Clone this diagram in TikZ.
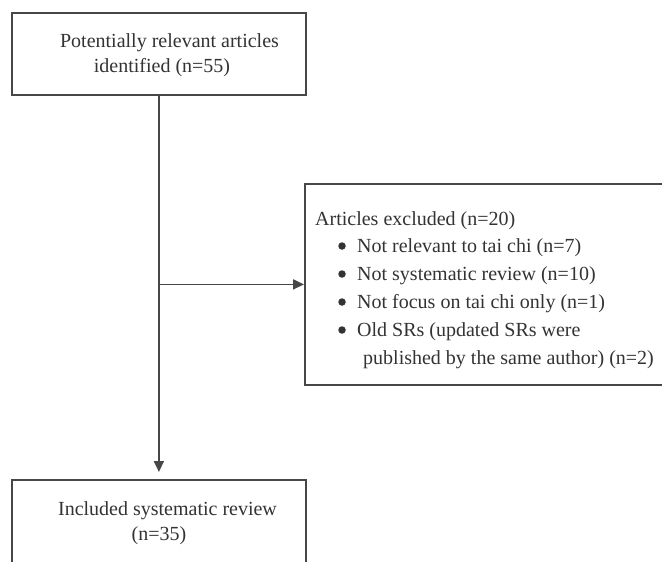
\documentclass[tikz,border=0pt]{standalone}
\usepackage{fontspec}
\setmainfont{Liberation Serif}
\usetikzlibrary{arrows.meta}
\definecolor{linec}{HTML}{474747}
\definecolor{textc}{HTML}{333333}
\begin{document}
\begin{tikzpicture}[x=1pt,y=-1pt,
  boxst/.style={draw=linec, line width=1.8pt, inner sep=0pt, anchor=north west},
  txt/.style={text=textc, font=\fontsize{20}{25}\selectfont, inner sep=0pt},
  conn/.style={draw=linec, line width=1.8pt, -{Triangle[length=11pt,width=10pt]}},
  dotst/.style={circle, fill=textc, inner sep=0pt, minimum size=7.5pt}]
\useasboundingbox[fill=white] (0,0) rectangle (662,562);
% boxes
\node[boxst, minimum width=294pt, minimum height=82pt] (top) at (11,12) {};
\node[boxst, minimum width=359pt, minimum height=201pt] (excl) at (304,183) {};
\node[boxst, minimum width=294pt, minimum height=92pt] (incl) at (11,479) {};
% connectors
\draw[conn, shorten >=7pt] (top.south) -- (incl.north);
\draw[conn] (top.south |- excl.west) -- (excl.west);
% top box text
\node[txt, anchor=base] (t1) at (169.5,47) {Potentially relevant articles};
\node[txt, anchor=base] (t2) at (162,72) {identified (n=55)};
% excluded box text
\node[txt, anchor=base west] (e0) at (315,225) {Articles excluded (n=20)};
\node[txt, anchor=base west] (e1) at (357,252) {Not relevant to tai chi (n=7)};
\node[txt, anchor=base west] (e2) at (357,280) {Not systematic review (n=10)};
\node[txt, anchor=base west] (e3) at (357,308) {Not focus on tai chi only (n=1)};
\node[txt, anchor=base west] (e4) at (357,336) {Old SRs (updated SRs were};
\node[txt, anchor=base west] (e5) at (363,364) {published by the same author) (n=2)};
\node[dotst] (b1) at (342,246) {};
\node[dotst] (b2) at (342,274) {};
\node[dotst] (b3) at (342,302) {};
\node[dotst] (b4) at (342,330) {};
% included box text
\node[txt, anchor=base] (i1) at (167.5,515) {Included systematic review};
\node[txt, anchor=base] (i2) at (159,540) {(n=35)};
\end{tikzpicture}
\end{document}
